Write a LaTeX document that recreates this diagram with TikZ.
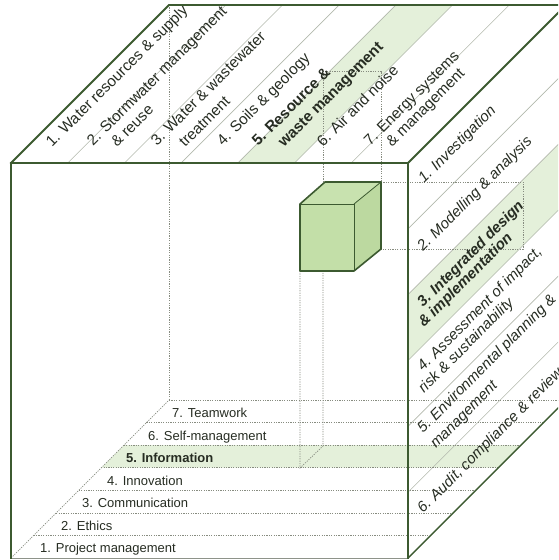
\documentclass[tikz,border=0pt]{standalone}
\usepackage{fontspec}
\setmainfont{Liberation Sans}
\usetikzlibrary{calc}
\definecolor{edge}{RGB}{60,90,48}
\definecolor{txt}{RGB}{38,44,34}
\definecolor{band}{RGB}{228,240,218}
\definecolor{cubefront}{RGB}{195,223,168}
\definecolor{cubetop}{RGB}{200,226,175}
\definecolor{cubeside}{RGB}{188,217,160}
\definecolor{thin}{RGB}{178,184,172}
\definecolor{dots}{RGB}{135,140,128}
\begin{document}
\begin{tikzpicture}[x=1pt,y=-1pt,
  edgeline/.style={draw=edge, line width=1.8pt, line join=miter, line cap=rect},
  divline/.style={draw=thin, line width=0.6pt},
  dotline/.style={draw=dots, line width=0.7pt, dash pattern=on 1.2pt off 1.2pt},
  toplabel/.style={rotate=45, anchor=base west, inner sep=0pt, text=txt, font=\fontsize{15.3}{18}\selectfont},
  sidelabel/.style={rotate=45, anchor=base west, inner sep=0pt, text=txt, font=\fontsize{15}{18}\selectfont\itshape},
  baselabel/.style={anchor=base west, inner sep=0pt, text=txt, font=\fontsize{13}{15}\selectfont},
]
\useasboundingbox (0,0) rectangle (558,560);
\clip (0,0) rectangle (558,560);
% cube corners
\coordinate (FTL) at (11,163);
\coordinate (FTR) at (408,163);
\coordinate (FBL) at (11,558);
\coordinate (FBR) at (408,558);
\coordinate (BTL) at (169,5);
\coordinate (BTR) at (566,5);
\coordinate (BBL) at (169,400);
\coordinate (BBR) at (566,400);
% green bands
\fill[band] (237.86,163) -- (294.57,163) -- (452.57,5) -- (395.86,5) -- cycle;
\fill[band] (408,294.67) -- (408,360.5) -- (566,202.5) -- (566,136.67) -- cycle;
\fill[band] (123.86,445.14) -- (520.86,445.14) -- (498.29,467.71) -- (101.29,467.71) -- cycle;
% top face dividers
\foreach \i in {1,...,6} {
  \draw[divline] ($(FTL)!\i/7!(FTR)$) -- ++(158,-158);
}
% right face dividers
\foreach \j in {1,...,5} {
  \draw[divline] ($(FTR)!\j/6!(FBR)$) -- ++(158,-158);
}
% bottom face lines
\foreach \k in {1,...,6} {
  \pgfmathsetmacro{\t}{\k*22.571}
  \draw[dotline] (169-\t,400+\t) -- (566-\t,400+\t);
}
% hidden edges
\draw[dotline] (BTL) -- (BBL);
\draw[dotline] (BBL) -- (BBR);
\draw[dotline] (FBL) -- (BBL);
\draw[draw=thin!80!black, line width=1pt] (FBL) -- (FBR);
% projection lines of the small cube
\coordinate (SA) at (300,271);
\coordinate (SB) at (323,271);
\coordinate (SC) at (300,468);
\coordinate (SD) at (323,446);
\coordinate (SE) at (323,182);
\coordinate (SF) at (381,182);
\coordinate (SG) at (323,71);
\coordinate (SH) at (381,71);
\coordinate (SI) at (381,249);
\coordinate (SJ) at (523,182);
\coordinate (SK) at (523,249);
\draw[dotline] (SA) -- (SC) -- (SD) -- (SB);
\draw[dotline] (SE) -- (SG) -- (SH) -- (SF);
\draw[dotline] (SF) -- (SJ) -- (SK) -- (SI);
% top face labels
\node[toplabel] (t1) at (52,148) {1. Water resources \& supply};
\node[toplabel] (t2a) at (93,147) {2. Stormwater management};
\node[toplabel] (t2b) at (117,148) {\& reuse};
\node[toplabel] (t3a) at (157,147) {3. Water \& wastewater};
\node[toplabel] (t3b) at (185,148) {treatment};
\node[toplabel] (t4) at (223,147) {4. Soils \& geology};
\node[toplabel, font=\fontsize{15.3}{18}\selectfont\bfseries] (t5a) at (258,147) {5. Resource \&};
\node[toplabel, font=\fontsize{15.3}{18}\selectfont\bfseries] (t5b) at (284,148) {waste management};
\node[toplabel] (t6) at (323,148) {6. Air and noise};
\node[toplabel] (t7a) at (370,147) {7. Energy systems};
\node[toplabel] (t7b) at (392,148) {\& management};
% right face labels
\node[sidelabel] (r1) at (424,184) {1. Investigation};
\node[sidelabel] (r2) at (423,252) {2. Modelling \& analysis};
\node[sidelabel, font=\fontsize{15}{18}\selectfont\bfseries\itshape] (r3a) at (423,308) {3. Integrated design};
\node[sidelabel, font=\fontsize{15}{18}\selectfont\bfseries\itshape] (r3b) at (424,328) {\& implementation};
\node[sidelabel] (r4a) at (423,372) {4. Assessment of impact,};
\node[sidelabel] (r4b) at (424,394) {risk \& sustainability};
\node[sidelabel] (r5a) at (423,434) {5. Environmental planning \&};
\node[sidelabel] (r5b) at (436,449) {management};
\node[sidelabel] (r6) at (423,514) {6. Audit, compliance \& review};
% bottom face labels
\node[baselabel] (b7) at (172,417) {7. Teamwork};
\node[baselabel] (b6) at (148,440) {6. Self-management};
\node[baselabel, font=\fontsize{13}{15}\selectfont\bfseries] (b5) at (126,462) {5. Information};
\node[baselabel] (b4) at (107,485) {4. Innovation};
\node[baselabel] (b3) at (82,507) {3. Communication};
\node[baselabel] (b2) at (61,530) {2. Ethics};
\node[baselabel] (b1) at (40,552) {1. Project management};
% small cube
\fill[cubefront] (300,204) rectangle (354,271);
\fill[cubetop] (300,204) -- (325,182) -- (381,182) -- (354,204) -- cycle;
\fill[cubeside] (354,204) -- (381,182) -- (381,249) -- (354,271) -- cycle;
\draw[draw=edge, line width=0.8pt] (300,204) -- (354,204) -- (354,271);
\draw[draw=edge, line width=0.8pt] (354,204) -- (381,182);
\draw[draw=edge, line width=1.6pt, line join=round] (300,204) -- (325,182) -- (381,182) -- (381,249) -- (354,271) -- (300,271) -- cycle;
% cube edges
\draw[edgeline] (FBL) -- (FTL) -- (FTR) -- (FBR);
\draw[edgeline] (FTL) -- (BTL) -- (BTR);
\draw[edgeline] (FTR) -- (BTR);
\draw[draw=edge, line width=1.4pt] (FBR) -- (BBR);
\end{tikzpicture}
\end{document}
